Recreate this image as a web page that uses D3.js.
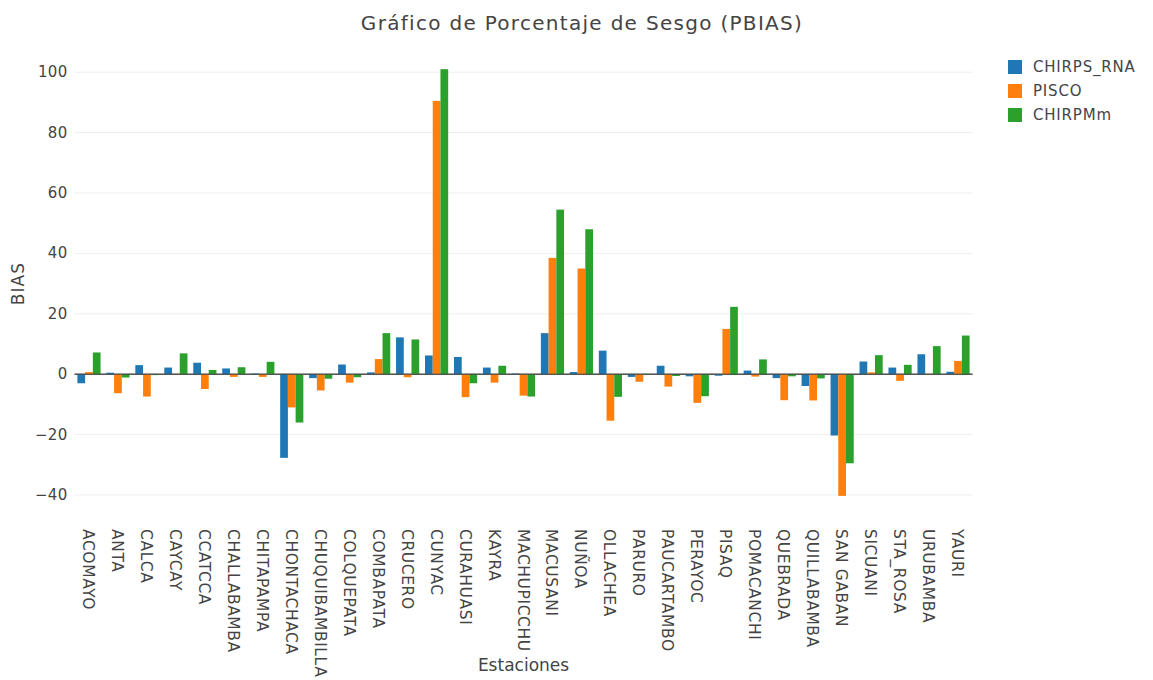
<!DOCTYPE html>
<html lang="es">
<head>
<meta charset="utf-8"/>
<style>
  body { margin: 0; background: #fff; }
</style>
<script src="https://d3js.org/d3.v7.min.js"></script>
</head>
<body>
<svg id="chart" width="1153" height="680" font-family="DejaVu Sans, Verdana, sans-serif"></svg>
<script>
let estaciones = ["ACOMAYO","ANTA","CALCA","CAYCAY","CCATCCA","CHALLABAMBA","CHITAPAMPA","CHONTACHACA",
  "CHUQUIBAMBILLA","COLQUEPATA","COMBAPATA","CRUCERO","CUNYAC","CURAHUASI","KAYRA","MACHUPICCHU",
  "MACUSANI","NUÑOA","OLLACHEA","PARURO","PAUCARTAMBO","PERAYOC","PISAQ","POMACANCHI","QUEBRADA",
  "QUILLABAMBA","SAN GABAN","SICUANI","STA_ROSA","URUBAMBA","YAURI"]

let chirpsRna = [-3.0,0.5,3.0,2.2,3.8,1.9,0.2,-27.7,-1.3,3.2,0.6,12.2,6.2,5.7,2.2,0.2,
  13.6,0.7,7.8,-0.9,2.8,-0.7,-0.5,1.2,-1.3,-3.9,-20.3,4.2,2.2,6.6,0.8]
let pisco = [0.7,-6.3,-7.4,0.1,-4.9,-0.9,-0.9,-11.0,-5.4,-2.8,5.0,-1.0,90.5,-7.6,-2.8,-7.1,
  38.5,35.0,-15.4,-2.5,-4.1,-9.5,15.0,-0.8,-8.6,-8.7,-40.3,0.6,-2.2,0.1,4.4]
let chirpMm = [7.2,-1.1,-0.3,6.9,1.4,2.3,4.1,-16.0,-1.5,-1.0,13.6,11.5,101.0,-3.0,2.8,-7.4,
  54.5,48.0,-7.5,0.1,-0.6,-7.3,22.3,4.9,-0.7,-1.4,-29.5,6.3,3.1,9.3,12.8]

let yTicks = [-40,-20,0,20,40,60,80,100]
let seriesNames = ["CHIRPS_RNA","PISCO","CHIRPMm"]
let seriesColors = ["#1f77b4","#ff7f0e","#2ca02c"]

let series = [chirpsRna, pisco, chirpMm]
let svg = d3.select("#chart")
let left = 74.5, right = 972.5

let x = d3.scaleBand().domain(estaciones).range([left, right]).paddingInner(0.2).paddingOuter(0.1)
let xs = d3.scaleBand().domain(seriesNames).range([0, x.bandwidth()])
let y = d3.scaleLinear().domain([-45.3, 104.7]).range([511, 58])

// grid
svg.append("g").selectAll("line").data(yTicks).enter().append("line")
  .attr("x1", left).attr("x2", right)
  .attr("y1", d => y(d)).attr("y2", d => y(d))
  .attr("stroke", d => d == 0 ? "#444" : "#eee")
  .attr("stroke-width", 1)

svg.append("g").selectAll("text").data(yTicks).enter().append("text")
  .attr("x", left - 7).attr("y", d => y(d) + 5)
  .attr("text-anchor", "end").attr("font-size", 15).attr("fill", "#444")
  .attr("letter-spacing", 0.3)
  .text(d => d < 0 ? "\u2212" + Math.abs(d) : d)

// bars
let rows = []
estaciones.forEach((e, i) => series.forEach((s, j) => rows.push({e: e, k: seriesNames[j], v: s[i], c: seriesColors[j]})))
svg.append("g").selectAll("rect").data(rows).enter().append("rect")
  .attr("x", d => x(d.e) + xs(d.k))
  .attr("width", xs.bandwidth())
  .attr("y", d => Math.min(y(d.v), y(0)))
  .attr("height", d => Math.abs(y(d.v) - y(0)))
  .attr("fill", d => d.c)

// zero line on top
svg.append("line").attr("x1", left).attr("x2", right)
  .attr("y1", y(0)).attr("y2", y(0)).attr("stroke", "#444").attr("stroke-width", 1)

// category labels
svg.append("g").selectAll("text").data(estaciones).enter().append("text")
  .attr("transform", d => "translate(" + (x(d) + x.bandwidth() / 2 - 6) + "," + 529 + ") rotate(90)")
  .attr("font-size", 15.5).attr("fill", "#444").attr("letter-spacing", 0.6)
  .text(d => d)

svg.append("text").attr("x", (left + right) / 2).attr("y", 671)
  .attr("text-anchor", "middle").attr("font-size", 17).attr("fill", "#444").text("Estaciones")

svg.append("text").attr("transform", "translate(24," + y(30) + ") rotate(-90)")
  .attr("text-anchor", "middle").attr("font-size", 17).attr("fill", "#444")
  .attr("letter-spacing", 1).text("BIAS")

svg.append("text").attr("x", 582).attr("y", 30)
  .attr("text-anchor", "middle").attr("font-size", 20).attr("fill", "#444")
  .attr("letter-spacing", 1.3)
  .text("Gráfico de Porcentaje de Sesgo (PBIAS)")

// legend
let legend = svg.append("g").selectAll("g").data(seriesNames).enter().append("g")
  .attr("transform", (d, i) => "translate(1008," + (67 + i * 24) + ")")
legend.append("rect").attr("x", 0).attr("y", -7).attr("width", 14).attr("height", 14)
  .attr("fill", (d, i) => seriesColors[i])
legend.append("text").attr("x", 25).attr("y", 5).attr("font-size", 15).attr("fill", "#444")
  .attr("letter-spacing", 0.8).text(d => d)
</script>
</body>
</html>
